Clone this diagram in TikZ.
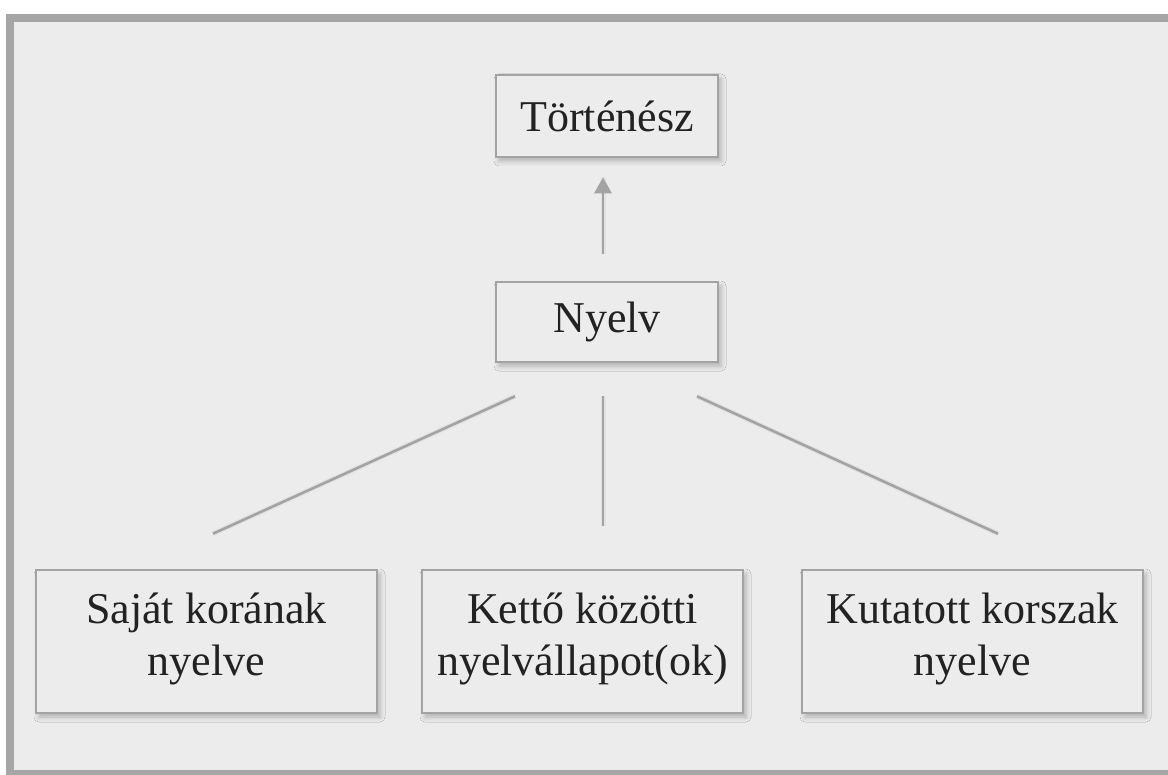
\documentclass[tikz,border=0pt]{standalone}
\usepackage{fontspec}
\setmainfont{Liberation Serif}
\usetikzlibrary{arrows.meta,calc,shadows.blur}
\definecolor{panel}{HTML}{ECECEC}
\definecolor{frame}{HTML}{A6A6A6}
\definecolor{edge}{HTML}{A3A3A3}
\definecolor{ink}{HTML}{222222}
\tikzset{
  box/.style={draw=edge, line width=2.6pt, fill=panel, inner sep=0pt,
    blur shadow={shadow xshift=3pt, shadow yshift=-4pt, shadow blur radius=5pt, shadow opacity=25}},
  label/.style={font=\fontsize{44}{52}\selectfont, text=ink, align=center, inner sep=0pt},
  link/.style={draw=edge, line width=2.6pt},
  linkshade/.style={draw=black, line width=5pt, opacity=0.04},
}
\begin{document}
\begin{tikzpicture}[x=1pt,y=-1pt]
\useasboundingbox (0,0) rectangle (1168,775);
\fill[white] (0,0) rectangle (1168,775);
\begin{scope}
  \clip (0,0) rectangle (1168,775);
  \draw[frame, line width=8pt, fill=panel] (10,18) rectangle (1180,774);
\end{scope}

% boxes with their labels
\node[box, minimum width=222pt, minimum height=82pt] (hist) at (607,116) {};
\node[box, minimum width=222pt, minimum height=80pt] (lang) at (607,322) {};
\node[box, minimum width=341pt, minimum height=143pt] (own) at (206.5,641.5) {};
\node[box, minimum width=321pt, minimum height=143pt] (mid) at (582.5,641.5) {};
\node[box, minimum width=341pt, minimum height=143pt] (past) at (972.5,641.5) {};

\node[label] (hist-t) at (hist) {Történész};
\node[label] (lang-t) at (lang) {Nyelv};
\node[label] (own-t) at ($(own)+(0,-3)$) {Saját korának\\nyelve};
\node[label] (mid-t) at ($(mid)+(0,-3)$) {Kettő közötti\\nyelvállapot(ok)};
\node[label] (past-t) at ($(past)+(0,-3)$) {Kutatott korszak\\nyelve};

% connector end points
\coordinate (up-a) at ($(lang.north)+(-4,-27)$);
\coordinate (up-b) at ($(hist.south)+(-4,19)$);
\coordinate (d0) at ($(lang.south)+(-92,33)$);
\coordinate (d1) at ($(lang.south)+(-4,33)$);
\coordinate (d2) at ($(lang.south)+(90,33)$);
\coordinate (e0) at ($(own.north)+(6.5,-35)$);
\coordinate (e1) at ($(mid.north)+(20.5,-43)$);
\coordinate (e2) at ($(past.north)+(25.5,-35)$);

% soft shadows under the connectors
\begin{scope}[shift={(3,4)}]
  \draw[linkshade] (up-a) -- (up-b);
  \draw[linkshade] (d0) -- (e0);
  \draw[linkshade] (d1) -- (e1);
  \draw[linkshade] (d2) -- (e2);
\end{scope}

% connectors
\draw[link, -{Triangle[width=17pt,length=16pt]}] (up-a) -- (up-b);
\draw[link] (d0) -- (e0);
\draw[link] (d1) -- (e1);
\draw[link] (d2) -- (e2);
\end{tikzpicture}
\end{document}
